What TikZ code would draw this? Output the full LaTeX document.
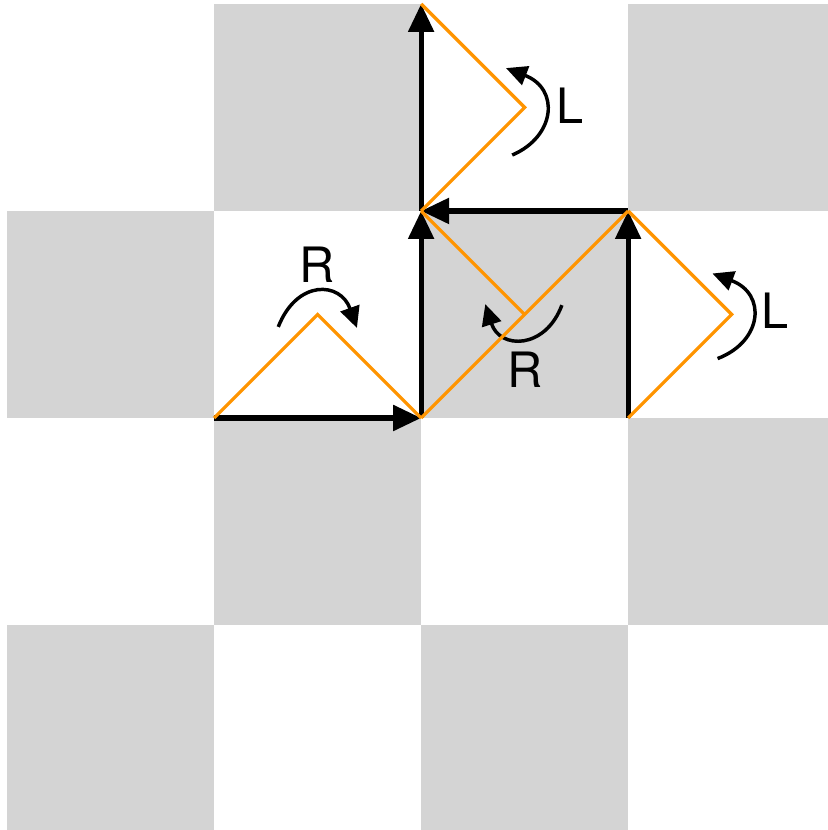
\documentclass[tikz,border=0pt]{standalone}
\usepackage{fontspec}
\setmainfont{TeX Gyre Heros}
\usetikzlibrary{arrows.meta}
\definecolor{cellgray}{RGB}{212,212,212}
\definecolor{foldorange}{RGB}{255,148,0}

\begin{document}
\begin{tikzpicture}[
    x=2cm, y=2cm,
    cell/.style={fill=cellgray},
    move/.style={line width=1.4pt, -{Triangle[length=7.7pt, width=6.9pt]}},
    fold/.style={foldorange, line width=0.9pt},
    turn/.style={line width=0.95pt, -{Triangle[length=5.8pt, width=5.4pt]}},
    turnlabel/.style={font=\fontsize{13.4}{16}\selectfont, inner sep=0pt},
]

\useasboundingbox (-0.034,0.01) rectangle (3.961,4.019);

% Checkerboard background
\foreach \i in {0,...,3}
  \foreach \j in {0,...,3} {
    \pgfmathparse{int(mod(\i+\j,2))}
    \ifnum\pgfmathresult=0
      \fill[cell] (\i,\j) rectangle ++(1,1);
    \fi
  }

% Lattice points and fold apexes
\coordinate (a) at (1,2);
\coordinate (b) at (2,2);
\coordinate (c) at (2,3);
\coordinate (d) at (2,4);
\coordinate (e) at (3,2);
\coordinate (f) at (3,3);
\coordinate (ab) at (1.5,2.5);
\coordinate (bc) at (2.5,2.5);
\coordinate (cd) at (2.5,3.5);
\coordinate (ef) at (3.5,2.5);

% Moves along the lattice
\draw[move] (a) -- (b);
\draw[move] (b) -- (c);
\draw[move] (c) -- (d);
\draw[move] (e) -- (f);
\draw[move] (f) -- (c);

% Turn arrows
\draw[turn, shift={(ab)}] (-0.19,-0.06) .. controls (-0.1,0.17) and (0.11,0.16) .. (0.19,-0.065);
\draw[turn, shift={(bc)}] (0.18,0.045) .. controls (0.1,-0.17) and (-0.12,-0.17) .. (-0.19,0.05);
\draw[turn, shift={(cd)}] (-0.06,-0.23) .. controls (0.15,-0.14) and (0.17,0.09) .. (-0.09,0.19);
\draw[turn, shift={(ef)}] (-0.068,-0.213) .. controls (0.15,-0.13) and (0.17,0.1) .. (-0.093,0.198);

\node[turnlabel] (r1) at (1.498,2.741) {R};
\node[turnlabel] (r2) at (2.502,2.232) {R};
\node[turnlabel] (l1) at (2.720,3.507) {L};
\node[turnlabel] (l2) at (3.710,2.517) {L};

% Folded paths
\draw[fold] (a) -- (ab) -- (b);
\draw[fold] (b) -- (f);
\draw[fold] (c) -- (bc);
\draw[fold] (c) -- (cd) -- (d);
\draw[fold] (f) -- (ef) -- (e);

\end{tikzpicture}
\end{document}
